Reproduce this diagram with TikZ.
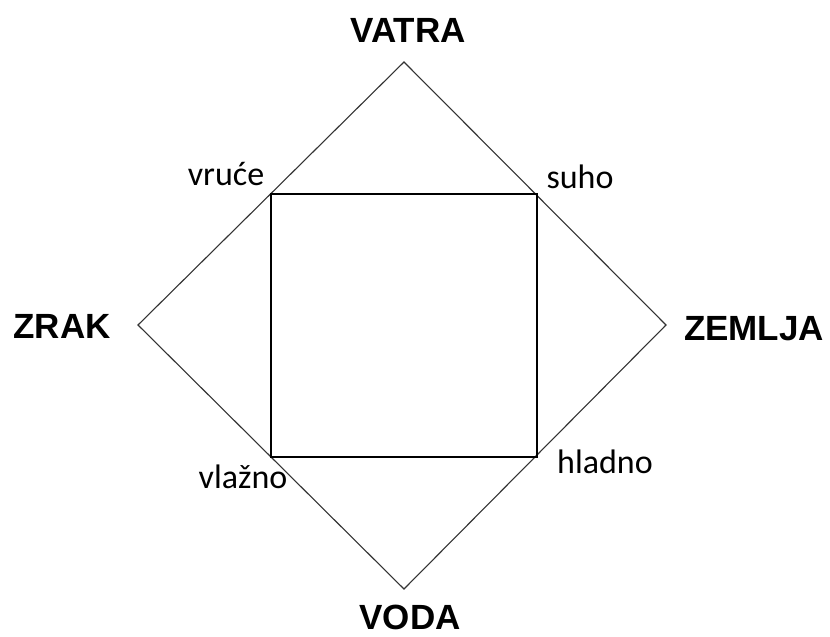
\documentclass[tikz,border=0pt]{standalone}
\usepackage{fontspec}
\setmainfont{Liberation Sans}
\newfontfamily\calfont{Carlito}
\begin{document}
\begin{tikzpicture}[x=1pt,y=-1pt,
  big/.style={font=\fontsize{35}{40}\selectfont\bfseries, inner sep=0pt, text=black},
  small/.style={font=\calfont\fontsize{34}{40}\selectfont, inner sep=0pt, anchor=base, text=black},
  edge/.style={draw=black!80, line width=1.1pt, line join=miter},
  sqedge/.style={draw=black, line width=1.6pt, line join=miter}]
\useasboundingbox (0,0) rectangle (830,637);
\fill[white] (0,0) rectangle (830,637);
% diamond
\coordinate (T) at (404,62);
\coordinate (R) at (666,325);
\coordinate (B) at (404,589);
\coordinate (L) at (138,325);
% square
\coordinate (s1) at (271,194);
\coordinate (s2) at (537,194);
\coordinate (s3) at (537,457);
\coordinate (s4) at (271,457);
\draw[edge] (T) -- (R) -- (B) -- (L) -- cycle;
\draw[sqedge] (s1) -- (s2) -- (s3) -- (s4) -- cycle;
% labels
\node[big] (vatra) at (408,30) {VATRA};
\node[big] (zrak) at (62,326) {ZRAK};
\node[big] (zemlja) at (754,329) {ZEMLJA};
\node[big] (voda) at (410,617) {VODA};
\node[small] (vruce) at (226,185) {vruće};
\node[small] (suho) at (580,188) {suho};
\node[small] (vlazno) at (243,488) {vlažno};
\node[small] (hladno) at (605,473) {hladno};
\end{tikzpicture}
\end{document}
